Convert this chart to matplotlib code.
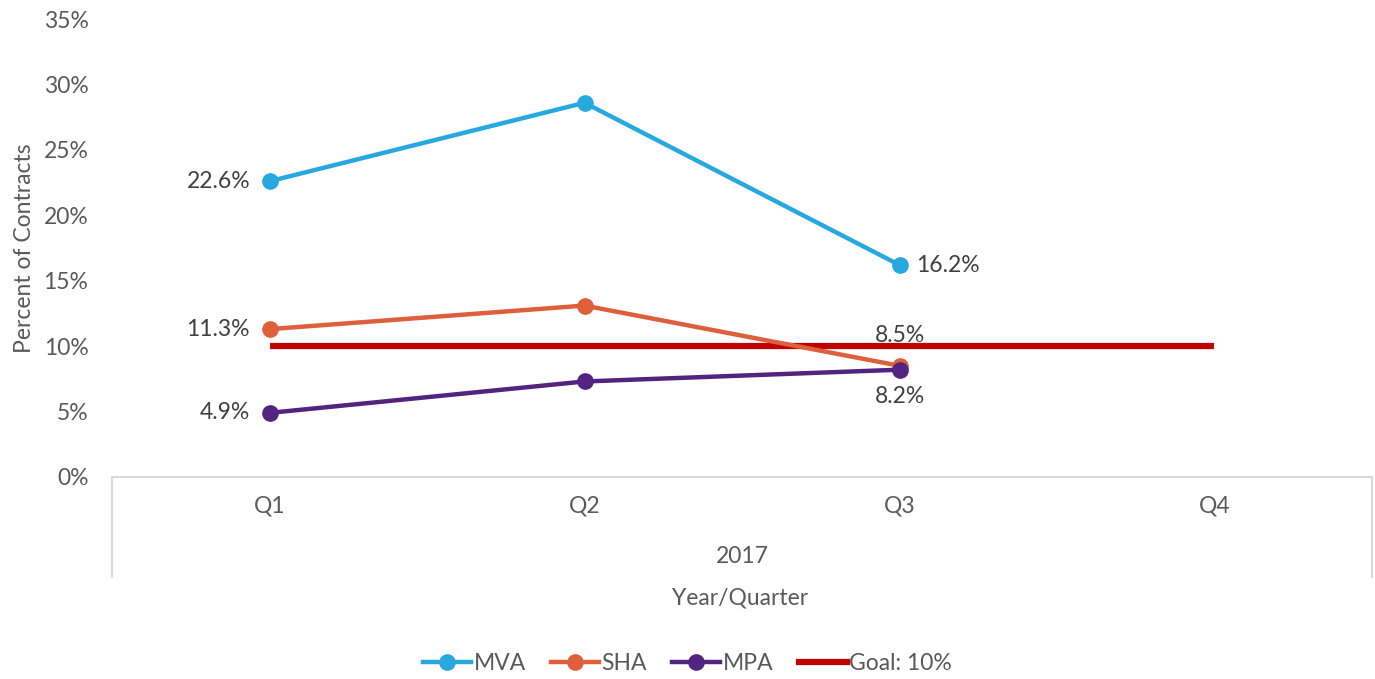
import numpy as np
import matplotlib.pyplot as plt
from matplotlib.lines import Line2D

plt.rcParams['font.family'] = ['Lato', 'DejaVu Sans']

quarters = ['Q1', 'Q2', 'Q3', 'Q4']
year_label = '2017'
mva = [0.226, 0.286, 0.162]
sha = [0.113, 0.131, 0.085]
mpa = [0.049, 0.073, 0.082]
goal = [0.10, 0.10, 0.10, 0.10]

text_color = '#595959'
colors = {'MVA': '#29A8E0', 'SHA': '#DD5F3B', 'MPA': '#52237F', 'Goal': '#C00000'}
fs = 16.5

fig = plt.figure(figsize=(13.75, 6.79), dpi=100)
ax = fig.add_axes([0.0815, 0.2975, 0.9163, 0.6745])

x = np.arange(len(quarters))
ax.plot(x, goal, color=colors['Goal'], lw=4.5, solid_capstyle='butt', zorder=2)
for name, vals in [('MVA', mva), ('SHA', sha), ('MPA', mpa)]:
    ax.plot(x[:len(vals)], vals, color=colors[name], lw=3.2, marker='o', ms=11,
            solid_capstyle='round', zorder=3)

# data labels
lbl = dict(fontsize=fs, color='#404040')
ax.annotate(f'{mva[0]*100:.1f}%', (0, mva[0]), xytext=(-14, 0), textcoords='offset points', ha='right', va='center', **lbl)
ax.annotate(f'{mva[2]*100:.1f}%', (2, mva[2]), xytext=(12, 0), textcoords='offset points', ha='left', va='center', **lbl)
ax.annotate(f'{sha[0]*100:.1f}%', (0, sha[0]), xytext=(-14, 0), textcoords='offset points', ha='right', va='center', **lbl)
ax.annotate(f'{sha[2]*100:.1f}%', (2, sha[2]), xytext=(0, 14), textcoords='offset points', ha='center', va='bottom', **lbl)
ax.annotate(f'{mpa[0]*100:.1f}%', (0, mpa[0]), xytext=(-14, 0), textcoords='offset points', ha='right', va='center', **lbl)
ax.annotate(f'{mpa[2]*100:.1f}%', (2, mpa[2]), xytext=(0, -12), textcoords='offset points', ha='center', va='top', **lbl)

ax.set_xlim(-0.5, 3.5)
ax.set_ylim(0, 0.35)
ticks = np.arange(0, 0.351, 0.05)
ax.set_yticks(ticks)
ax.set_yticklabels([f'{int(round(t*100))}%' for t in ticks])
ax.tick_params(axis='y', length=0, labelsize=fs, labelcolor=text_color, pad=17)
ax.set_xticks(x)
ax.set_xticklabels(quarters)
ax.tick_params(axis='x', length=0, labelsize=fs, labelcolor=text_color, pad=13)
for s in ['top', 'right', 'left']:
    ax.spines[s].set_visible(False)
ax.spines['bottom'].set_color('#D9D9D9')
ax.spines['bottom'].set_linewidth(1.5)

# category table border lines
for xv in [-0.5, 3.5]:
    ax.add_line(Line2D([xv, xv], [0, -0.0765], color='#D9D9D9', lw=1.5, clip_on=False))
ax.text(1.5, -0.061, year_label, ha='center', va='center', fontsize=fs, color=text_color)

ax.set_ylabel('Percent of Contracts', fontsize=fs, color=text_color, labelpad=6)
fig.text(0.5385, 0.119, 'Year/Quarter', ha='center', va='center', fontsize=fs, color=text_color)

handles = [Line2D([], [], color=colors[n], lw=3.2, marker='o', ms=11) for n in ['MVA', 'SHA', 'MPA']]
handles.append(Line2D([], [], color=colors['Goal'], lw=4.5))
fig.legend(handles, ['MVA', 'SHA', 'MPA', 'Goal: 10%'], loc='center', bbox_to_anchor=(0.5, 0.023),
           ncol=4, frameon=False, fontsize=fs, labelcolor=text_color, handlelength=2.1,
           handletextpad=0.1, columnspacing=1.1)

fig.savefig('out.png', dpi=100)
